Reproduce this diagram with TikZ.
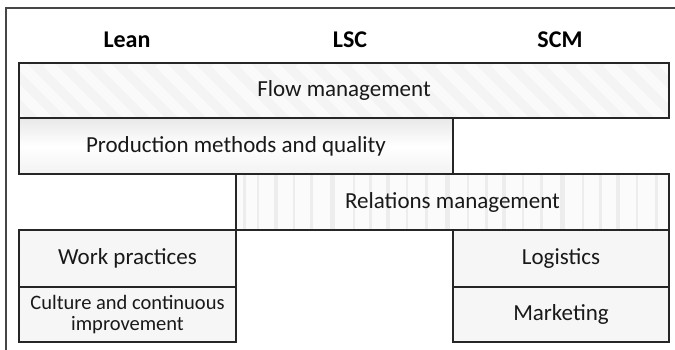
\documentclass[tikz,border=0pt]{standalone}
\usepackage{fontspec}
\setmainfont{Carlito}
\usetikzlibrary{calc}

\begin{document}
\begin{tikzpicture}[x=1pt,y=-1pt,
  box/.style={draw=black!85,line width=1.8pt,inner sep=0pt,text=black!90,
    font=\fontsize{23}{27}\selectfont},
  head/.style={font=\fontsize{24}{28}\selectfont\bfseries,text=black},
  diagfill/.style={fill=gray!9,path picture={
      \foreach \i in {-4,...,26}
        \draw[white,line width=10pt,opacity=.6]
          ($(path picture bounding box.north west)+(\i*28,0)$) -- ++(60,60);}},
  hfill/.style={top color=gray!18,bottom color=gray!10,middle color=white},
  vfill/.style={fill=gray!3,path picture={
      \foreach \p/\w in {8/3,22/2,40/4,58/2,75/3,96/5,118/2,134/3,152/4,
          171/2,190/3,211/5,232/2,250/3,268/4,287/2,305/3,326/5,347/2,
          364/3,382/4,401/2,420/3}
        \draw[gray!14,line width=\w pt]
          ($(path picture bounding box.north west)+(\p,0)$) -- ++(0,60);}},
  plainfill/.style={fill=gray!7}]

\useasboundingbox (0,0) rectangle (675,350);

%% outer frame (top and left edges)
\draw[gray!55!black,line width=1.6pt] (675,8) -- (6,8) -- (6,350);

%% column headings
\node[head] (lean) at (127,40) {Lean};
\node[head] (lsc)  at (350,40) {LSC};
\node[head] (scm)  at (560,40) {SCM};

%% shared areas
\node[box,diagfill,minimum width=650,minimum height=55]
  (flow) at (344,90.5) {Flow management};
\node[box,hfill,minimum width=434,minimum height=56]
  (prod) at (236,146) {Production methods and quality};
\node[box,vfill,minimum width=433,minimum height=56]
  (rel) at (452.5,202) {Relations management};

%% lean-only areas
\node[box,plainfill,minimum width=217,minimum height=57]
  (work) at (127.5,258.5) {Work practices};
\node[box,plainfill,minimum width=217,minimum height=55,align=center,
  font=\fontsize{20.5}{21.5}\selectfont]
  (culture) at (127.5,314.5) {Culture and continuous\\improvement};

%% SCM-only areas
\node[box,plainfill,minimum width=216,minimum height=57]
  (logi) at (561,258.5) {Logistics};
\node[box,plainfill,minimum width=216,minimum height=55]
  (mark) at (561,314.5) {Marketing};

\end{tikzpicture}
\end{document}
